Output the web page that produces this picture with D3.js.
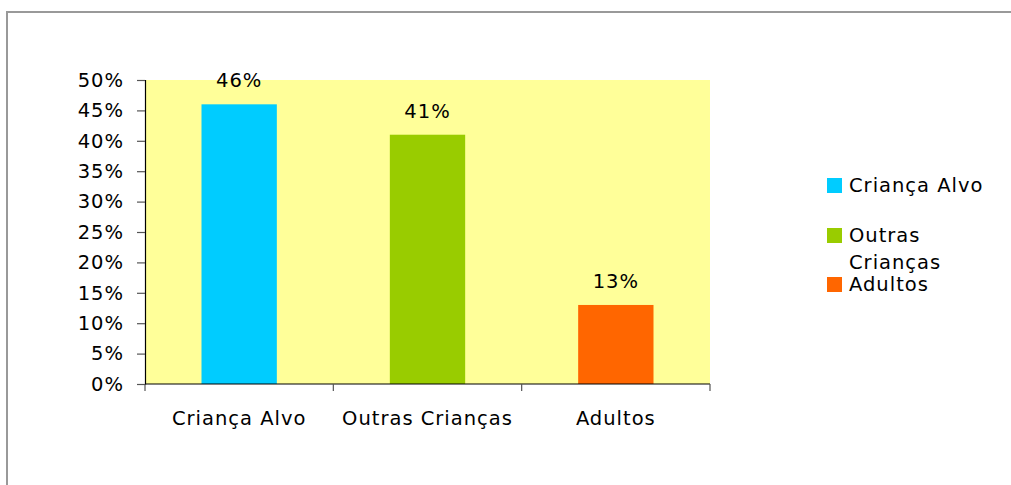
<!DOCTYPE html>
<html><head><meta charset="utf-8">
<script src="https://cdn.jsdelivr.net/npm/d3@7"></script>
<style>body{margin:0;background:#fff;}svg{display:block;}text{font-family:"DejaVu Sans",Verdana,sans-serif;fill:#000;}</style>
</head><body><svg id="c" width="1011" height="485"></svg>
<script>
const categories = ["Criança Alvo", "Outras Crianças", "Adultos"];
const values = [0.46, 0.41, 0.13];
const valueLabels = ["46%", "41%", "13%"];
const colors = ["#00CCFF", "#99CC00", "#FF6600"];
const yTicks = [0, 0.05, 0.10, 0.15, 0.20, 0.25, 0.30, 0.35, 0.40, 0.45, 0.50];
const legendLines = [["Criança Alvo"], ["Outras", "Crianças"], ["Adultos"]];

const svg = d3.select("#c");
const L = 145, R = 710, T = 80, B = 384;
const FS = "19.5px", LS = "1px";

svg.append("rect").attr("x", 7).attr("y", 12).attr("width", 1030).attr("height", 500)
  .attr("fill", "#fff").attr("stroke", "#999").attr("stroke-width", 2);

const x = d3.scaleBand().domain(categories).range([L, R]).paddingInner(0.6).paddingOuter(0.3);
const y = d3.scaleLinear().domain([0, 0.5]).range([B, T]);

svg.append("rect").attr("x", L).attr("y", T).attr("width", R - L).attr("height", B - T).attr("fill", "#FFFF99");

svg.selectAll("rect.bar").data(values).join("rect").attr("class", "bar")
  .attr("x", (d, i) => x(categories[i])).attr("width", x.bandwidth())
  .attr("y", d => y(d)).attr("height", d => B - y(d)).attr("fill", (d, i) => colors[i]);

// y axis
const yAxis = d3.axisLeft(y).tickValues(yTicks).tickFormat(d3.format(".0%")).tickSize(8).tickPadding(13);
const gy = svg.append("g").attr("transform", `translate(${L},0)`).call(yAxis);
gy.select(".domain").attr("stroke", "#000").attr("stroke-width", 1.2);
gy.selectAll(".tick line").attr("stroke", "#555").attr("stroke-width", 1.2);
gy.selectAll(".tick text").style("font-size", FS).style("letter-spacing", LS).attr("fill", "#000");

// x axis
const step = x.step();
const gx = svg.append("g").attr("transform", `translate(0,${B})`);
gx.append("line").attr("x1", L).attr("x2", R).attr("stroke", "#000").attr("stroke-width", 1.2);
gx.selectAll("line.t").data(d3.range(categories.length + 1)).join("line").attr("class", "t")
  .attr("x1", i => L + i * step).attr("x2", i => L + i * step).attr("y1", 0).attr("y2", 7)
  .attr("stroke", "#555").attr("stroke-width", 1.2);
gx.selectAll("text").data(categories).join("text")
  .attr("x", d => x(d) + x.bandwidth() / 2).attr("y", 41).attr("text-anchor", "middle")
  .style("font-size", FS).style("letter-spacing", LS).text(d => d);

// value labels
svg.selectAll("text.val").data(values).join("text").attr("class", "val")
  .attr("x", (d, i) => x(categories[i]) + x.bandwidth() / 2).attr("y", d => y(d) - 17)
  .attr("text-anchor", "middle").style("font-size", FS).style("letter-spacing", LS)
  .text((d, i) => valueLabels[i]);

// legend
const legendTop = [178, 228, 277];
legendLines.forEach((lines, i) => {
  const g = svg.append("g");
  g.append("rect").attr("x", 827).attr("y", legendTop[i]).attr("width", 15).attr("height", 15).attr("fill", colors[i]);
  lines.forEach((t, j) => {
    g.append("text").attr("x", 849).attr("y", legendTop[i] + 14 + j * 27)
      .style("font-size", FS).style("letter-spacing", LS).text(t);
  });
});
</script></body></html>
